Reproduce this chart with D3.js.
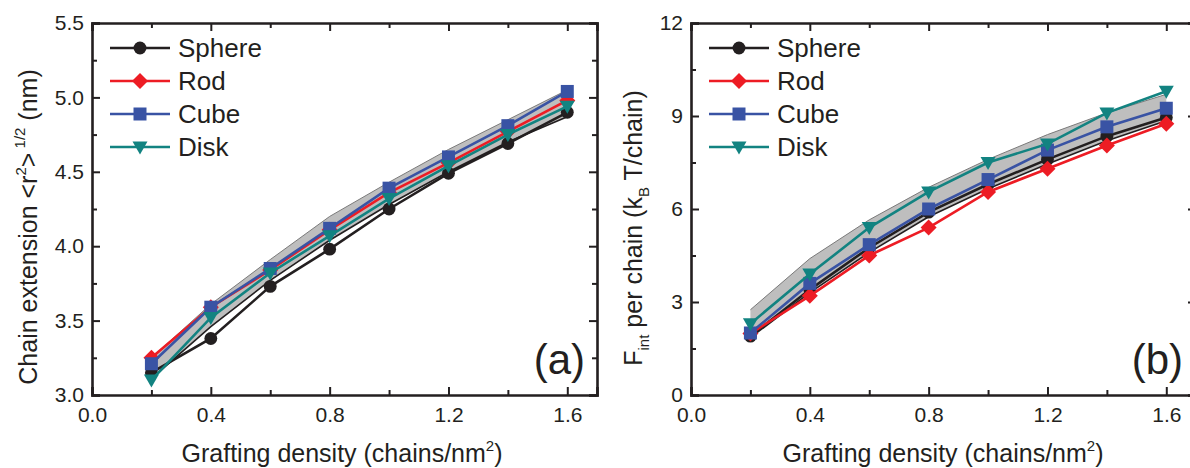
<!DOCTYPE html>
<html>
<head>
<meta charset="utf-8">
<script src="https://cdn.jsdelivr.net/npm/d3@7"></script>
<style>
  body { margin: 0; background: #fff; }
  svg { display: block; font-family: "Liberation Sans", Arial, sans-serif; }
</style>
</head>
<body>
<div id="chart"></div>
<script>
// grafting densities (chains/nm^2)
const density = [0.2, 0.4, 0.6, 0.8, 1.0, 1.2, 1.4, 1.6];
const shapeNames = ["Sphere", "Rod", "Cube", "Disk"];

// (a) chain extension <r^2>^1/2 (nm)
const extSphere = [3.15, 3.38, 3.73, 3.98, 4.25, 4.49, 4.69, 4.90];
const extRod    = [3.25, 3.59, 3.84, 4.11, 4.36, 4.56, 4.77, 4.98];
const extCube   = [3.21, 3.59, 3.85, 4.12, 4.39, 4.60, 4.81, 5.04];
const extDisk   = [3.10, 3.52, 3.82, 4.07, 4.32, 4.54, 4.75, 4.94];
const extBandLow  = [3.11, 3.46, 3.77, 4.04, 4.28, 4.50, 4.70, 4.87];
const extBandHigh = [3.25, 3.61, 3.91, 4.20, 4.43, 4.65, 4.85, 5.05];

// (b) F_int per chain (kBT/chain)
const fSphere = [1.90, 3.40, 4.75, 5.90, 6.80, 7.60, 8.35, 8.95];
const fRod    = [1.98, 3.20, 4.50, 5.40, 6.55, 7.30, 8.05, 8.75];
const fCube   = [2.00, 3.60, 4.85, 6.00, 6.95, 7.90, 8.65, 9.25];
const fDisk   = [2.30, 3.90, 5.40, 6.55, 7.50, 8.10, 9.10, 9.80];
const fBandLow  = [1.85, 3.30, 4.60, 5.75, 6.65, 7.45, 8.20, 8.85];
const fBandHigh = [2.75, 4.40, 5.65, 6.70, 7.60, 8.40, 9.10, 9.70];

const xMajor = [0, 0.4, 0.8, 1.2, 1.6];
const xMinor = [0.2, 0.6, 1.0, 1.4];
const extMajor = [3.0, 3.5, 4.0, 4.5, 5.0, 5.5];
const extMinor = [3.25, 3.75, 4.25, 4.75, 5.25];
const fMajor = [0, 3, 6, 9, 12];
const fMinor = [1.5, 4.5, 7.5, 10.5];

const colors = ["#231f20", "#ed1c24", "#3953a4", "#128381"];
const ink = "#231f20";

const svg = d3.select("#chart")
  .append("svg")
  .attr("width", 1190)
  .attr("height", 468);

function drawPanel(cfg) {
  const x = d3.scaleLinear().domain([0, 1.7]).range([cfg.left, cfg.right]);
  const y = d3.scaleLinear().domain(cfg.yDomain).range([cfg.bottom, cfg.top]);
  const g = svg.append("g");

  // shaded band
  const band = density.map((d, i) => ({ x: d, lo: cfg.bandLow[i], hi: cfg.bandHigh[i] }));
  g.append("path")
    .datum(band)
    .attr("fill", "#bebebe")
    .attr("d", d3.area().x(d => x(d.x)).y0(d => y(d.lo)).y1(d => y(d.hi)));
  g.append("path")
    .datum(band)
    .attr("fill", "none").attr("stroke", "#7a7a7a").attr("stroke-width", 1)
    .attr("d", d3.line().x(d => x(d.x)).y(d => y(d.hi)));
  g.append("path")
    .datum(band)
    .attr("fill", "none").attr("stroke", ink).attr("stroke-width", 1.6)
    .attr("d", d3.line().x(d => x(d.x)).y(d => y(d.lo)));

  // series
  const line = d3.line().x(d => x(d[0])).y(d => y(d[1]));
  cfg.series.forEach((vals, k) => {
    const pts = density.map((d, i) => [d, vals[i]]);
    g.append("path")
      .datum(pts)
      .attr("fill", "none")
      .attr("stroke", colors[k])
      .attr("stroke-width", 2.6)
      .attr("d", line);
    g.selectAll(null)
      .data(pts)
      .join("path")
      .attr("transform", d => `translate(${x(d[0])},${y(d[1])})`)
      .attr("d", markerPath(k))
      .attr("fill", colors[k]);
  });

  // axes, ticks inward
  const axes = [
    { gen: d3.axisBottom(x), tr: `translate(0,${cfg.bottom})`, major: xMajor, minor: xMinor, labels: true, fmt: d3.format(".1f") },
    { gen: d3.axisTop(x), tr: `translate(0,${cfg.top})`, major: xMajor, minor: xMinor, labels: false },
    { gen: d3.axisLeft(y), tr: `translate(${cfg.left},0)`, major: cfg.yMajor, minor: cfg.yMinor, labels: true, fmt: cfg.yFmt },
    { gen: d3.axisRight(y), tr: `translate(${cfg.right},0)`, major: cfg.yMajor, minor: cfg.yMinor, labels: false }
  ];
  axes.forEach((a, idx) => {
    const ax = g.append("g").attr("transform", a.tr);
    ax.call(a.gen.tickValues(a.major).tickSize(-8)
      .tickPadding(idx === 0 ? 12 : 8)
      .tickFormat(a.labels ? a.fmt : ""));
    ax.select(".domain").attr("stroke", ink).attr("stroke-width", 2.6);
    ax.selectAll(".tick line").attr("stroke", ink).attr("stroke-width", 2);
    ax.selectAll(".tick text").attr("fill", ink).style("font-size", "21px")
      .style("font-family", "'Liberation Sans', Arial, sans-serif");
    const mn = g.append("g").attr("transform", a.tr);
    const gen2 = idx === 0 ? d3.axisBottom(x) : idx === 1 ? d3.axisTop(x) : idx === 2 ? d3.axisLeft(y) : d3.axisRight(y);
    mn.call(gen2.tickValues(a.minor).tickSize(-5).tickFormat(""));
    mn.select(".domain").remove();
    mn.selectAll(".tick line").attr("stroke", ink).attr("stroke-width", 2);
  });

  // legend
  shapeNames.forEach((name, k) => {
    const ly = 48 + k * 33;
    const lx = cfg.left + 18;
    g.append("line")
      .attr("x1", lx).attr("x2", lx + 60).attr("y1", ly).attr("y2", ly)
      .attr("stroke", colors[k]).attr("stroke-width", 2.6);
    g.append("path")
      .attr("transform", `translate(${lx + 30},${ly})`)
      .attr("d", markerPath(k))
      .attr("fill", colors[k]);
    g.append("text")
      .attr("x", lx + 68).attr("y", ly + 9)
      .attr("fill", ink)
      .style("font-size", "26px")
      .text(name);
  });

  // panel label
  g.append("text")
    .attr("x", cfg.tagX).attr("y", 374)
    .attr("text-anchor", "end")
    .attr("fill", ink)
    .style("font-size", "42px")
    .text(cfg.tag);

  // x title
  const xt = g.append("text")
    .attr("x", cfg.xTitleX)
    .attr("y", 462)
    .attr("text-anchor", "middle")
    .attr("fill", ink)
    .style("font-size", "25px");
  xt.append("tspan").text("Grafting density (chains/nm");
  xt.append("tspan").attr("dy", -11).style("font-size", "15px").text("2");
  xt.append("tspan").attr("dy", 11).text(")");

  // y title
  const yt = g.append("text")
    .attr("transform", `translate(${cfg.yTitleX},${cfg.yTitleY}) rotate(-90)`)
    .attr("text-anchor", "middle")
    .attr("fill", ink)
    .style("font-size", "25px");
  cfg.yTitle(yt);
}

function markerPath(k) {
  if (k === 0) return d3.symbol(d3.symbolCircle, 130)();
  if (k === 1) return "M0,-8L8,0L0,8L-8,0Z";
  if (k === 2) return "M-6.5,-6.5L6.5,-6.5L6.5,6.5L-6.5,6.5Z";
  return "M-7.5,-5.5L7.5,-5.5L0,7.5Z";
}

drawPanel({
  left: 92, right: 597, top: 23, bottom: 395,
  yDomain: [3.0, 5.5], yMajor: extMajor, yMinor: extMinor, yFmt: d3.format(".1f"),
  series: [extSphere, extRod, extCube, extDisk],
  bandLow: extBandLow, bandHigh: extBandHigh,
  tag: "(a)", tagX: 585, xTitleX: 342,
  yTitleX: 37, yTitleY: 227,
  yTitle: t => {
    t.append("tspan").text("Chain extension <r");
    t.append("tspan").attr("dy", -11).style("font-size", "15px").text("2");
    t.append("tspan").attr("dy", 11).text(">");
    t.append("tspan").attr("dy", -12).style("font-size", "15px").text(" 1/2");
    t.append("tspan").attr("dy", 12).text(" (nm)");
  }
});

drawPanel({
  left: 691, right: 1196, top: 23, bottom: 395,
  yDomain: [0, 12], yMajor: fMajor, yMinor: fMinor, yFmt: d3.format("d"),
  series: [fSphere, fRod, fCube, fDisk],
  bandLow: fBandLow, bandHigh: fBandHigh,
  tag: "(b)", tagX: 1183, xTitleX: 943,
  yTitleX: 642, yTitleY: 228,
  yTitle: t => {
    t.append("tspan").text("F");
    t.append("tspan").attr("dy", 7).style("font-size", "15px").text("int");
    t.append("tspan").attr("dy", -7).text(" per chain (k");
    t.append("tspan").attr("dy", 7).style("font-size", "15px").text("B");
    t.append("tspan").attr("dy", -7).text(" T/chain)");
  }
});
</script>
</body>
</html>
